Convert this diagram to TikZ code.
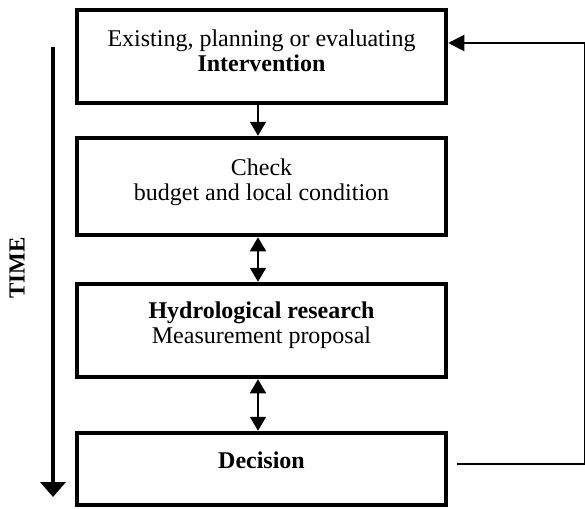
\documentclass[tikz,border=0pt]{standalone}
\usepackage{fontspec}
\setmainfont{Liberation Serif}
\usepackage{tikz}
\usetikzlibrary{arrows.meta}

\tikzset{
	stagebox/.style={shape=rectangle, draw=black, line width=4.5pt, minimum width=369pt, inner sep=0pt},
	stagetext/.style={align=center, inner sep=0pt, font=\fontsize{24}{25}\selectfont},
	link/.style={line width=1.8pt, -{Triangle[length=14pt,width=16pt]}},
	twolink/.style={line width=1.8pt, {Triangle[length=14pt,width=16pt]}-{Triangle[length=14pt,width=16pt]}},
	feedback/.style={line width=2pt, -{Triangle[length=16pt,width=16pt]}},
	timeline/.style={line width=4pt, -{Triangle[length=15pt,width=25pt]}},
}

\begin{document}
\begin{tikzpicture}[x=1pt, y=-1pt]

	\useasboundingbox (0,0) rectangle (585,508);

	\node[stagebox, minimum height=93pt] (Intervention) at (261.5, 56.5) {};
	\node[stagebox, minimum height=97pt] (Check) at (261.5, 186.5) {};
	\node[stagebox, minimum height=93pt] (Research) at (261.5, 330.5) {};
	\node[stagebox, minimum height=72pt] (Decision) at (261.5, 469) {};

	\node[stagetext] (InterventionText) at (261.5, 51) {Existing, planning or evaluating\\ \textbf{Intervention}};
	\node[stagetext] (CheckText) at (261.5, 182) {Check\\ budget and local condition};
	\node[stagetext] (ResearchText) at (261.5, 325) {\textbf{Hydrological research}\\ Measurement proposal};
	\node[stagetext] (DecisionText) at (261.5, 460) {\textbf{Decision}};

	\draw[link] ([xshift=-3.5pt]Intervention.south) -- ([xshift=-3.5pt]Check.north);
	\draw[twolink] ([xshift=-3.5pt]Check.south) -- ([xshift=-3.5pt]Research.north);
	\draw[twolink] ([xshift=-3.5pt]Research.south) -- ([xshift=-3.5pt]Decision.north);

	% loop back from the decision to the intervention
	\coordinate (FeedStart) at (457, 464);
	\coordinate (FeedCorner) at (585, 464);
	\coordinate (FeedTop) at (585, 43);
	\draw[feedback] (FeedStart) -- (FeedCorner) -- (FeedTop) -- (FeedTop -| Intervention.east);

	% time axis
	\coordinate (TimeTop) at (53, 47);
	\coordinate (TimeEnd) at (53, 497);
	\draw[timeline] (TimeTop) -- (TimeEnd);
	\node[rotate=90, font=\bfseries\fontsize{23}{23}\selectfont] (TimeLabel) at (17, 268) {TIME};

\end{tikzpicture}
\end{document}
